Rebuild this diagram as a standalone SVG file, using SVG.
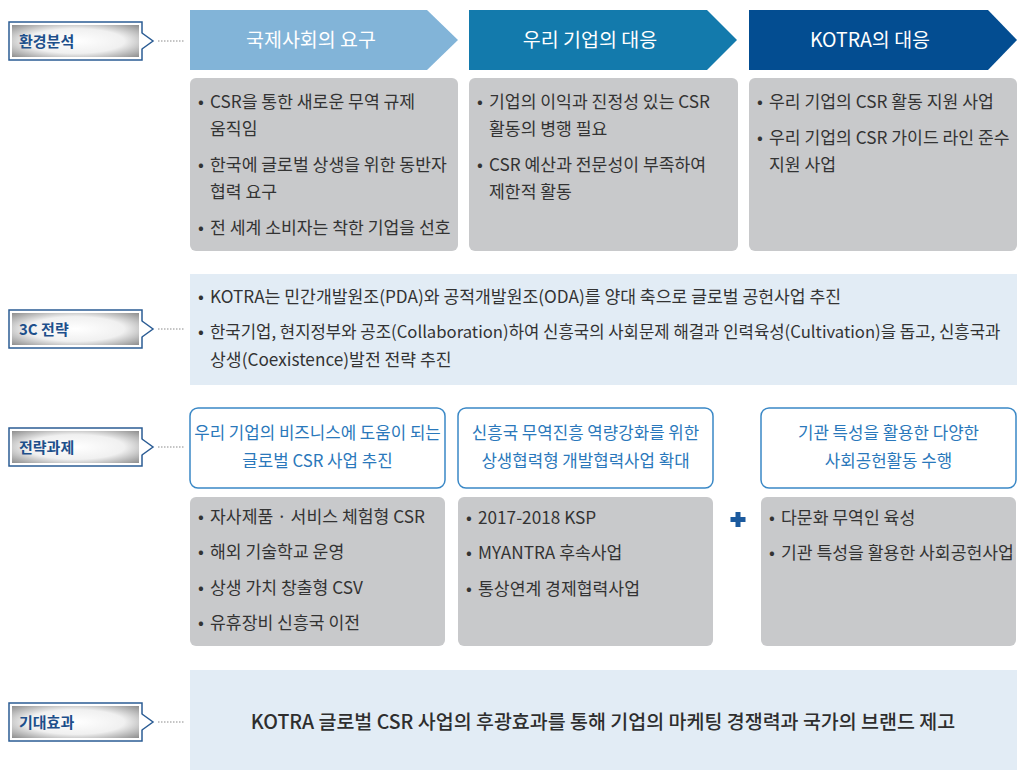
<svg xmlns="http://www.w3.org/2000/svg" width="1021" height="772" viewBox="0 0 1021 772">
<style>
text{font-family:"Noto Sans CJK KR","Noto Sans",sans-serif;}
.lab{font-size:15px;font-weight:700;fill:#1d4f8b;}
.ttl{font-size:19.5px;fill:#ffffff;text-anchor:middle;}
.body{font-size:17.2px;fill:#333333;}
.body2{font-size:16.7px;fill:#333333;}
.blue{font-size:16.8px;fill:#2a78bb;text-anchor:middle;}
.gbox{fill:#c8c9cb;}
.lbox{fill:#e2ecf5;}
.obox{fill:#ffffff;stroke:#3a88c6;stroke-width:1.5;}
.lo{fill:#ffffff;stroke:#2b5c94;stroke-width:1.5;}
.dot{stroke:#8a8a8a;stroke-width:1;stroke-dasharray:1.5 1.5;fill:none;}
</style>
<defs>
<radialGradient id="lg" cx="0.5" cy="0.5" r="0.7">
<stop offset="0" stop-color="#ffffff"/>
<stop offset="0.55" stop-color="#f0f0f0"/>
<stop offset="1" stop-color="#8f8f8f"/>
</radialGradient>
<g id="labelShape">
<rect class="lo" x="9" y="0" width="133" height="38"/>
<rect x="12" y="3" width="127" height="32" fill="url(#lg)"/>
<path d="M141,11 L153,19 L141,27 Z" fill="#ffffff"/>
<path d="M142,11 L153,19 L142,27" fill="none" stroke="#2b5c94" stroke-width="1.5"/>
</g>
</defs>

<g id="connectors">
<line class="dot" x1="158" y1="41" x2="185" y2="41"/>
<line class="dot" x1="158" y1="329" x2="185" y2="329"/>
<line class="dot" x1="158" y1="447" x2="185" y2="447"/>
<line class="dot" x1="158" y1="722" x2="185" y2="722"/>
</g>

<g id="label-env" transform="translate(0,22)">
<use href="#labelShape"/>
<text class="lab" x="19" y="24.5">환경분석</text>
</g>
<g id="label-3c" transform="translate(0,310)">
<use href="#labelShape"/>
<text class="lab" x="19" y="24.5">3C 전략</text>
</g>
<g id="label-task" transform="translate(0,428)">
<use href="#labelShape"/>
<text class="lab" x="19" y="24.5">전략과제</text>
</g>
<g id="label-effect" transform="translate(0,703)">
<use href="#labelShape"/>
<text class="lab" x="19" y="24.5">기대효과</text>
</g>

<g id="arrow-intl">
<polygon points="190,10 427,10 458,40 427,70 190,70" fill="#82b4d8"/>
<text class="ttl" x="311" y="47">국제사회의 요구</text>
</g>
<g id="arrow-corp">
<polygon points="469,10 707,10 737,40 707,70 469,70" fill="#137aac"/>
<text class="ttl" x="590" y="47">우리 기업의 대응</text>
</g>
<g id="arrow-kotra">
<polygon points="749,10 988,10 1017,40 988,70 749,70" fill="#034d91"/>
<text class="ttl" x="870" y="47">KOTRA의 대응</text>
</g>

<g id="box-intl">
<rect class="gbox" x="190" y="78" width="268" height="173" rx="6"/>
<text class="body" x="198" y="108">•</text>
<text class="body" x="210" y="108">CSR을 통한 새로운 무역 규제</text>
<text class="body" x="210" y="135">움직임</text>
<text class="body" x="198" y="171">•</text>
<text class="body" x="210" y="171">한국에 글로벌 상생을 위한 동반자</text>
<text class="body" x="210" y="198">협력 요구</text>
<text class="body" x="198" y="234">•</text>
<text class="body" x="210" y="234">전 세계 소비자는 착한 기업을 선호</text>
</g>
<g id="box-corp">
<rect class="gbox" x="469" y="78" width="269" height="173" rx="6"/>
<text class="body" x="477" y="108">•</text>
<text class="body" x="489" y="108">기업의 이익과 진정성 있는 CSR</text>
<text class="body" x="489" y="135">활동의 병행 필요</text>
<text class="body" x="477" y="171">•</text>
<text class="body" x="489" y="171">CSR 예산과 전문성이 부족하여</text>
<text class="body" x="489" y="198">제한적 활동</text>
</g>
<g id="box-kotra">
<rect class="gbox" x="749" y="78" width="268" height="173" rx="6"/>
<text class="body" x="757" y="108">•</text>
<text class="body" x="769" y="108">우리 기업의 CSR 활동 지원 사업</text>
<text class="body" x="757" y="144">•</text>
<text class="body" x="769" y="144">우리 기업의 CSR 가이드 라인 준수</text>
<text class="body" x="769" y="171">지원 사업</text>
</g>

<g id="box-3c">
<rect class="lbox" x="190" y="274" width="827" height="111"/>
<text class="body" x="198" y="303">•</text>
<text class="body" x="210" y="303">KOTRA는 민간개발원조(PDA)와 공적개발원조(ODA)를 양대 축으로 글로벌 공헌사업 추진</text>
<text class="body" x="198" y="338">•</text>
<text class="body2" x="210" y="338">한국기업, 현지정부와 공조(Collaboration)하여 신흥국의 사회문제 해결과 인력육성(Cultivation)을 돕고, 신흥국과</text>
<text class="body" x="210" y="366">상생(Coexistence)발전 전략 추진</text>
</g>

<g id="task-biz">
<rect class="obox" x="190" y="408" width="255" height="80" rx="8"/>
<text class="blue" x="317.5" y="439">우리 기업의 비즈니스에 도움이 되는</text>
<text class="blue" x="317.5" y="467">글로벌  CSR 사업 추진</text>
</g>
<g id="task-dev">
<rect class="obox" x="458" y="408" width="255" height="80" rx="8"/>
<text class="blue" x="585.5" y="439">신흥국 무역진흥 역량강화를 위한</text>
<text class="blue" x="585.5" y="467">상생협력형 개발협력사업 확대</text>
</g>
<g id="task-social">
<rect class="obox" x="761" y="408" width="255" height="80" rx="8"/>
<text class="blue" x="888.5" y="439">기관 특성을 활용한 다양한</text>
<text class="blue" x="888.5" y="467">사회공헌활동 수행</text>
</g>

<g id="detail-biz">
<rect class="gbox" x="190" y="497" width="255" height="149" rx="6"/>
<text class="body" x="198" y="523">•</text>
<text class="body" x="210" y="523">자사제품 · 서비스 체험형 CSR</text>
<text class="body" x="198" y="558">•</text>
<text class="body" x="210" y="558">해외 기술학교 운영</text>
<text class="body" x="198" y="594">•</text>
<text class="body" x="210" y="594">상생 가치 창출형 CSV</text>
<text class="body" x="198" y="629">•</text>
<text class="body" x="210" y="629">유휴장비 신흥국 이전</text>
</g>
<g id="detail-dev">
<rect class="gbox" x="458" y="497" width="255" height="149" rx="6"/>
<text class="body" x="466" y="524">•</text>
<text class="body" x="478" y="524">2017-2018 KSP</text>
<text class="body" x="466" y="559">•</text>
<text class="body" x="478" y="559">MYANTRA 후속사업</text>
<text class="body" x="466" y="595">•</text>
<text class="body" x="478" y="595">통상연계 경제협력사업</text>
</g>
<g id="plus">
<path d="M735.5,512 h5 v5 h5 v5 h-5 v5 h-5 v-5 h-5 v-5 h5 Z" fill="#1b5a9e"/>
</g>
<g id="detail-social">
<rect class="gbox" x="761" y="497" width="255" height="149" rx="6"/>
<text class="body" x="769" y="524">•</text>
<text class="body" x="781" y="524">다문화 무역인 육성</text>
<text class="body" x="769" y="559">•</text>
<text class="body" x="781" y="559">기관 특성을 활용한 사회공헌사업</text>
</g>

<g id="box-effect">
<rect class="lbox" x="190" y="670" width="827" height="100"/>
<text x="603" y="729" text-anchor="middle" font-size="19.5" font-weight="500" fill="#2e2e2e">KOTRA 글로벌 CSR 사업의 후광효과를 통해 기업의 마케팅 경쟁력과 국가의 브랜드 제고</text>
</g>
</svg>
